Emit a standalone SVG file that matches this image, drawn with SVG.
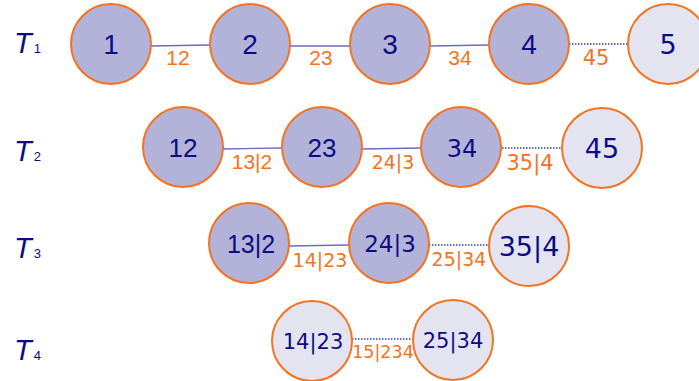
<svg xmlns="http://www.w3.org/2000/svg" width="699" height="381" viewBox="0 0 699 381">
<style>
.d{fill:#b3b3d9;stroke:#f47321;stroke-width:2}
.l{fill:#e4e4f1;stroke:#f47321;stroke-width:2}
.t{fill:#0c0c82;text-anchor:middle}
.a{font-family:"Liberation Sans",Arial,sans-serif}
.v{font-family:"DejaVu Sans",Verdana,sans-serif}
.e{fill:#f47321;text-anchor:middle}
.s{stroke:#6b6bbf;stroke-width:1.3;fill:none}
.o{stroke:#3a3aa8;stroke-width:1.5;stroke-dasharray:1.5 1.5;fill:none}
.T{fill:#0c0c82;font-family:"Liberation Sans",Arial,sans-serif;font-style:italic;font-size:29px}
.sub{fill:#0c0c82;font-family:"Liberation Sans",Arial,sans-serif;font-size:13px}
</style>
<g id="labels">
<text class="T" x="14" y="53">T<tspan class="sub" font-style="normal" dx="2">1</tspan></text>
<text class="T" x="14" y="161">T<tspan class="sub" font-style="normal" dx="2">2</tspan></text>
<text class="T" x="14" y="258">T<tspan class="sub" font-style="normal" dx="2">3</tspan></text>
<text class="T" x="14" y="360">T<tspan class="sub" font-style="normal" dx="2">4</tspan></text>
</g>
<g id="connectors">
<line class="s" x1="151" y1="46" x2="210" y2="45"/>
<line class="s" x1="290" y1="46" x2="350" y2="46"/>
<line class="s" x1="430" y1="46" x2="489" y2="45"/>
<line class="o" x1="569" y1="44" x2="628" y2="44"/>
<line class="s" x1="223" y1="149" x2="282" y2="148"/>
<line class="s" x1="362" y1="149" x2="421" y2="148"/>
<line class="o" x1="502" y1="148" x2="562" y2="148"/>
<line class="s" x1="289" y1="246" x2="349" y2="245"/>
<line class="o" x1="429" y1="245" x2="489" y2="245"/>
<line class="o" x1="352" y1="339" x2="413" y2="339"/>
<text class="e a" x="178" y="65" font-size="21">12</text>
<text class="e a" x="321" y="65" font-size="21">23</text>
<text class="e a" x="460" y="65" font-size="21">34</text>
<text class="e v" x="596" y="65" font-size="21">45</text>
<text class="e a" x="252" y="169" font-size="21">13|2</text>
<text class="e v" x="393" y="169" font-size="19">24|3</text>
<text class="e v" x="530" y="170" font-size="21">35|4</text>
<text class="e v" x="320" y="267" font-size="19">14|23</text>
<text class="e v" x="459" y="266" font-size="19">25|34</text>
<text class="e v" x="383" y="358" font-size="17.5">15|234</text>
</g>
<g id="n1"><circle class="d" cx="111" cy="44" r="40"/><text class="t a" x="111" y="54" font-size="28">1</text></g>
<g id="n2"><circle class="d" cx="250" cy="44" r="40"/><text class="t a" x="250" y="54" font-size="28">2</text></g>
<g id="n3"><circle class="d" cx="390" cy="44" r="40"/><text class="t a" x="390" y="54" font-size="28">3</text></g>
<g id="n4"><circle class="d" cx="529" cy="44" r="40"/><text class="t a" x="529" y="54" font-size="28">4</text></g>
<g id="n5"><circle class="l" cx="668" cy="44" r="40"/><text class="t v" x="668" y="54" font-size="27">5</text></g>
<g id="n12"><circle class="d" cx="183" cy="147" r="40"/><text class="t a" x="183" y="157" font-size="26">12</text></g>
<g id="n23"><circle class="d" cx="322" cy="147" r="40"/><text class="t a" x="322" y="157" font-size="26">23</text></g>
<g id="n34"><circle class="d" cx="461" cy="147" r="40"/><text class="t v" x="462" y="157" font-size="24">34</text></g>
<g id="n45"><circle class="l" cx="602" cy="148" r="40"/><text class="t v" x="602" y="158" font-size="27">45</text></g>
<g id="n13_2"><circle class="d" cx="249" cy="243" r="40"/><text class="t a" x="251" y="253" font-size="25">13|2</text></g>
<g id="n24_3"><circle class="d" cx="389" cy="243" r="40"/><text class="t v" x="390" y="252" font-size="23">24|3</text></g>
<g id="n35_4"><circle class="l" cx="529" cy="246" r="40"/><text class="t v" x="529" y="256" font-size="27">35|4</text></g>
<g id="n14_23"><circle class="l" cx="312" cy="341" r="40"/><text class="t v" x="313" y="349" font-size="21">14|23</text></g>
<g id="n25_34"><circle class="l" cx="453" cy="340" r="40"/><text class="t v" x="453" y="348" font-size="21">25|34</text></g>
</svg>
